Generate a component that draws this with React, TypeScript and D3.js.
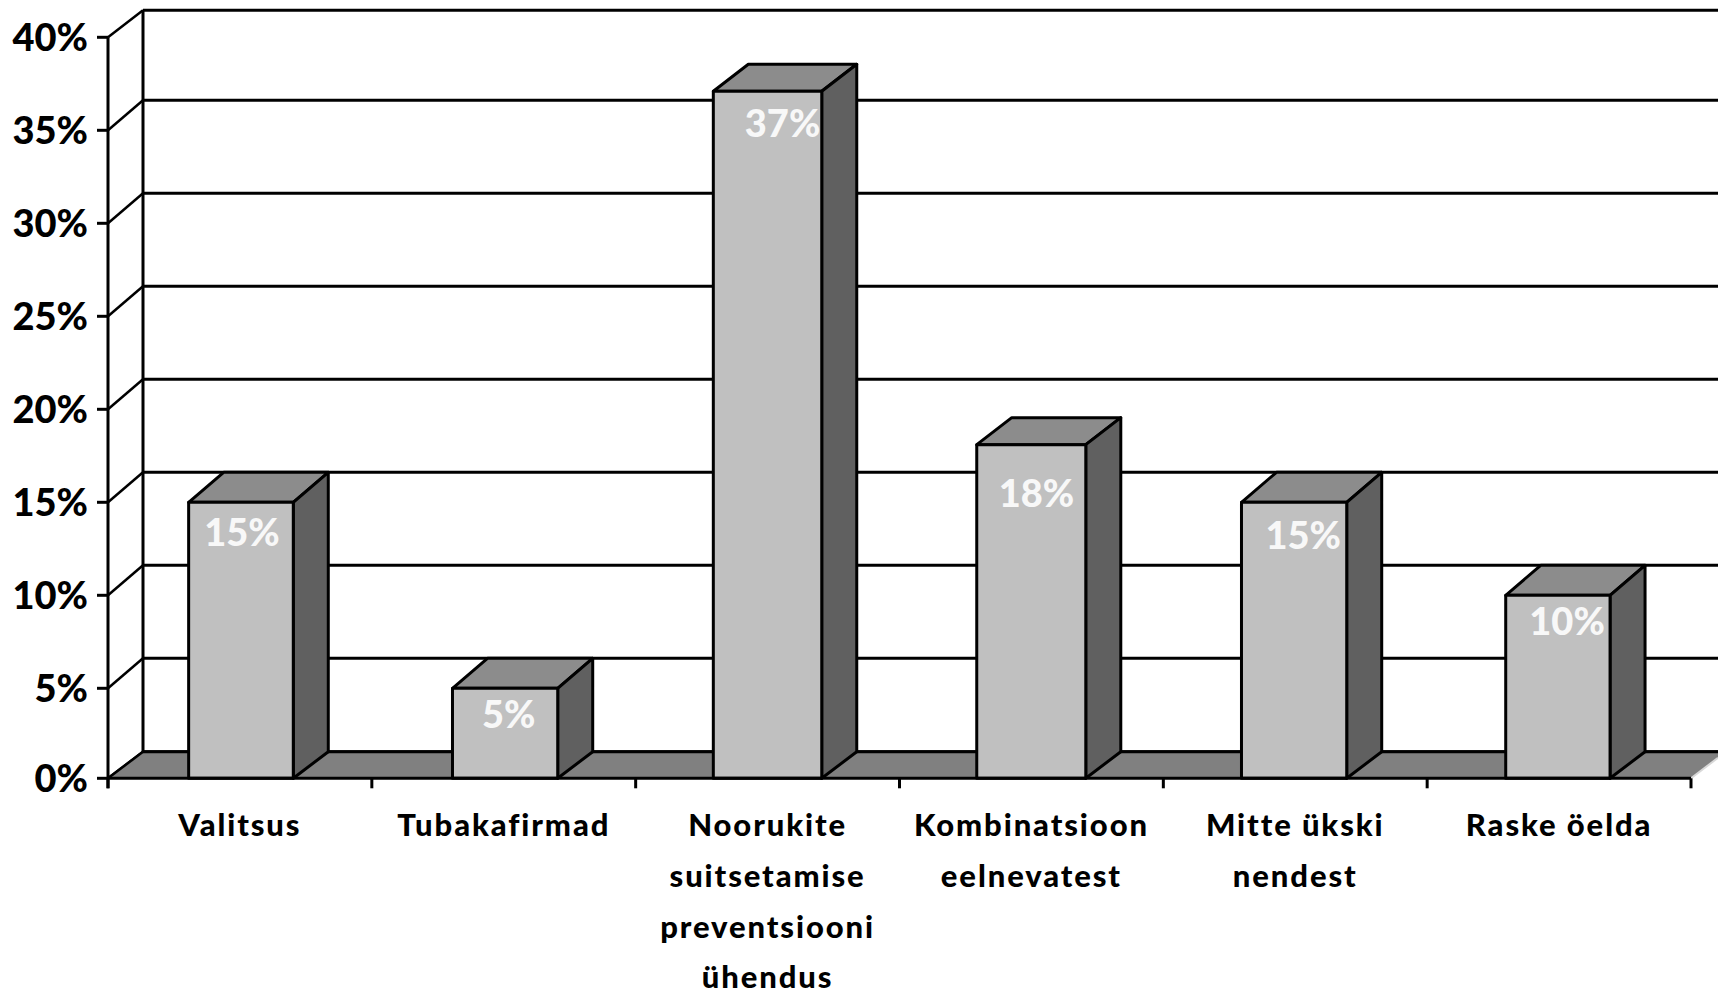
import React from "react";
import * as d3 from "d3";

const categories: string[][] = [
  ["Valitsus"],
  ["Tubakafirmad"],
  ["Noorukite", "suitsetamise", "preventsiooni", "ühendus"],
  ["Kombinatsioon", "eelnevatest"],
  ["Mitte ükski", "nendest"],
  ["Raske öelda"],
];
const values = [15, 5, 37.1, 18.1, 15, 10];
const yTicks = [0, 5, 10, 15, 20, 25, 30, 35, 40];

const W = 1718, H = 991;
const DX = 35, DY = -30, FLOOR_DY = -26.6;
const FONT = "Lato, 'Noto Sans', sans-serif";
const labelNudge: [number, number][] = [[2, 31], [5, 27], [15, 33], [5, 49], [8, 34], [8, 27]];
const edgeTweak: [number, number][] = [[1.5, 0.6], [1.5, 1.2], [-1.5, 1.4], [-1.9, 1.6], [-1, -1.3], [-0.6, -1.8]];
const barDepth = [30, 30, 27, 27, 30, 30];

export default function App() {
  const x = d3.scaleBand<number>().domain(d3.range(categories.length)).range([108, 1691]).paddingInner(0.6).paddingOuter(0.3);
  const y = d3.scaleLinear().domain([0, 40]).range([781.3, 37.3]);
  const tickX = d3.range(categories.length + 1).map((i) => 108 + i * x.step());
  const y0 = y(0) - 3;
  const backY0 = y0 + FLOOR_DY;
  const backTop = y(40) - 27;
  const tickY = (t: number) => (t === 0 ? y0 : y(t));
  const backY = (t: number) => (t === 0 ? backY0 : t === 40 ? backTop : y(t) + DY);
  const bw = x.bandwidth();
  const sw = 3;
  return (
    <svg width={W} height={H} viewBox={`0 0 ${W} ${H}`} style={{ position: "absolute", left: 0, top: 0, display: "block", background: "#fff" }}>
      {/* back wall gridlines */}
      {yTicks.map((t) => (
        <g key={t} stroke="#000" strokeWidth={sw}>
          <line x1={108} x2={108 + DX} y1={tickY(t)} y2={backY(t)} strokeWidth={2.5} />
          <line x1={108 + DX} x2={W} y1={backY(t)} y2={backY(t)} />
        </g>
      ))}
      <line x1={108 + DX} x2={108 + DX} y1={backTop} y2={backY0} stroke="#000" strokeWidth={sw} />
      {/* floor */}
      <path d={`M108,${y0}L${108 + DX},${backY0}L${W},${backY0}L${W},${backY0 + 6}L1691,${y0}Z`} fill="#808080" />
      <line x1={108 + DX} x2={W} y1={backY0} y2={backY0} stroke="#000" strokeWidth={sw} />
      <line x1={108} x2={108 + DX} y1={y0} y2={backY0} stroke="#000" strokeWidth={2.5} />
      <line x1={1691} x2={W} y1={y0} y2={y0 + (FLOOR_DY * (W - 1691)) / DX} stroke="#d8d8d8" strokeWidth={2} />
      {/* bars */}
      {values.map((v, i) => {
        const bx = x(i)! + edgeTweak[i][0];
        const bx2 = x(i)! + bw + edgeTweak[i][1];
        const by = y(v);
        const top = by - barDepth[i];
        return (
          <g key={i} stroke="#000" strokeWidth={sw} strokeLinejoin="round">
            <path d={`M${bx},${by}L${bx + DX},${top}L${bx2 + DX},${top}L${bx2},${by}Z`} fill="#8c8c8c" />
            <path d={`M${bx2},${by}L${bx2 + DX},${top}L${bx2 + DX},${backY0}L${bx2},${y0}Z`} fill="#606060" />
            <rect x={bx} y={by} width={bx2 - bx} height={y0 - by} fill="#c0c0c0" />
          </g>
        );
      })}
      {/* front axes */}
      <g stroke="#000" strokeWidth={sw}>
        <line x1={108} x2={108} y1={y(40)} y2={y0 + 10} />
        <line x1={108} x2={1691} y1={y0} y2={y0} />
        {yTicks.map((t) => (
          <line key={t} x1={97} x2={108} y1={tickY(t)} y2={tickY(t)} />
        ))}
        {tickX.map((tx) => (
          <line key={tx} x1={tx} x2={tx} y1={y0} y2={y0 + 10} />
        ))}
      </g>
      {/* y labels */}
      {yTicks.map((t) => (
        <text key={t} x={88} y={tickY(t) + 14} textAnchor="end" fontFamily={FONT} fontWeight={900} fontSize={38} fill="#000">{t}%</text>
      ))}
      {/* value labels */}
      {values.map((v, i) => (
        <text key={i} x={x(i)! + bw / 2 + labelNudge[i][0]} y={y(v) + labelNudge[i][1] + 13} textAnchor="middle" fontFamily={FONT} fontWeight={900} fontSize={38} fill="#f8f8f8">{Math.round(v)}%</text>
      ))}
      {/* category labels */}
      {categories.map((lines, i) => (
        <text key={i} textAnchor="middle" fontFamily={FONT} fontWeight={900} fontSize={31} letterSpacing={1.9} fill="#000">
          {lines.map((l, j) => (
            <tspan key={j} x={x(i)! + bw / 2} y={836 + j * 50.8}>{l}</tspan>
          ))}
        </text>
      ))}
    </svg>
  );
}
